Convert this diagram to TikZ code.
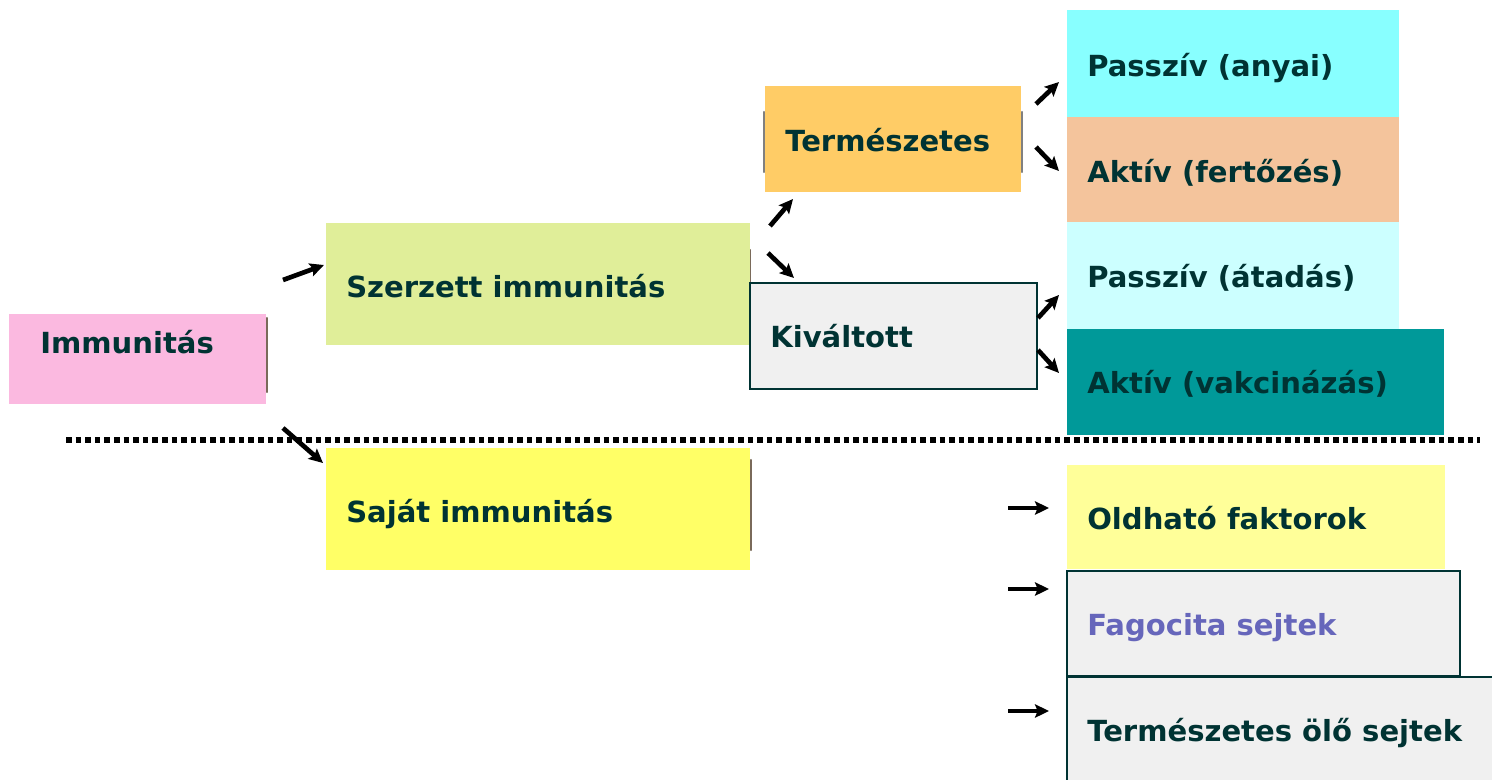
\documentclass[tikz,border=0pt]{standalone}
\usepackage{fontspec}
\setmainfont{DejaVu Sans}
\usetikzlibrary{arrows.meta,fit}

\definecolor{immpink}{HTML}{FBB9E0}
\definecolor{szgreen}{HTML}{E0EE99}
\definecolor{termorange}{HTML}{FFCC66}
\definecolor{pacyan}{HTML}{88FFFF}
\definecolor{akpeach}{HTML}{F4C49C}
\definecolor{palight}{HTML}{CCFFFF}
\definecolor{akteal}{HTML}{009999}
\definecolor{sajyellow}{HTML}{FFFF66}
\definecolor{oldyellow}{HTML}{FFFF99}
\definecolor{boxgray}{HTML}{F0F0F0}
\definecolor{darkteal}{HTML}{003333}
\definecolor{fagpurple}{HTML}{6666BB}
\definecolor{edgegray}{HTML}{7A6A5A}

\begin{document}
\begin{tikzpicture}[x=0.75pt,y=-0.75pt,>={Stealth[length=10.5pt,width=10pt,inset=2pt]},
  box/.style={inner sep=0pt,draw=none},
  framed/.style={inner sep=0pt,draw=darkteal,line width=1.5pt},
  lbl/.style={anchor=base west,inner sep=0pt,font=\bfseries\fontsize{21.8}{25}\selectfont,text=darkteal},
  arr/.style={->,line width=3.5pt},
  edge/.style={edgegray,line width=1.6pt,line cap=round}]
\useasboundingbox (0,0) rectangle (1492,779);

% left side
\draw[edge] (267,318) -- (267,392);
\node[box,fill=immpink,fit={(9,314) (266,404)}] (imm) {};
\node[lbl] (imm-t) at (40,353) {Immunitás};
\draw[edge] (750,250) -- (750,343);
\node[box,fill=szgreen,fit={(326,223) (750,345)}] (szer) {};
\node[lbl] (szer-t) at (346,297) {Szerzett immunitás};
\draw[edge] (751,460) -- (751,550);
\node[box,fill=sajyellow,fit={(326,448) (750,570)}] (sajat) {};
\node[lbl] (sajat-t) at (346,522) {Saját immunitás};

% middle
\draw[edge,gray] (764,112) -- (764,172) (1022,112) -- (1022,172);
\node[box,fill=termorange,fit={(765,86) (1021,192)}] (term) {};
\node[lbl] (term-t) at (785,151) {Természetes};
\node[framed,fill=boxgray,fit={(750,283) (1037,389)}] (kiv) {};
\node[lbl] (kiv-t) at (770,347) {Kiváltott};

% right column
\node[box,fill=pacyan,fit={(1067,10) (1399,117)}] (pany) {};
\node[lbl] (pany-t) at (1087,76) {Passzív (anyai)};
\node[box,fill=akpeach,fit={(1067,117) (1399,222)}] (afert) {};
\node[lbl] (afert-t) at (1087,182) {Aktív (fertőzés)};
\node[box,fill=palight,fit={(1067,222) (1399,329)}] (patad) {};
\node[lbl] (patad-t) at (1087,287) {Passzív (átadás)};
\node[box,fill=akteal,fit={(1067,329) (1444,435)}] (avak) {};
\node[lbl] (avak-t) at (1087,393) {Aktív (vakcinázás)};

\node[box,fill=oldyellow,fit={(1067,465) (1445,569)}] (old) {};
\node[lbl] (old-t) at (1087,529) {Oldható faktorok};
\node[framed,fill=boxgray,fit={(1067,571) (1460,676)}] (fag) {};
\node[lbl,text=fagpurple] (fag-t) at (1087,635) {Fagocita sejtek};
\node[framed,fill=boxgray,fit={(1067,677) (1500,790)}] (nk) {};
\node[lbl] (nk-t) at (1087,741) {Természetes ölő sejtek};

% dotted divider
\draw[line width=4pt,dash pattern=on 4.2pt off 3pt] (66,440) -- (1480,440);

% short arrows between the boxes
\foreach \n/\a/\b/\c/\d in {1/283/280/324/265, 2/283/428/323/463,
    3/770/226/793/199, 4/768/253/794/278,
    5/1036/104/1059/82, 6/1036/147/1059/171,
    7/1038/318/1059/295, 8/1038/350/1059/373,
    9/1008/508/1049/508, 10/1008/589/1049/589, 11/1008/711/1049/711}
{
  \coordinate (from\n) at (\a,\b);
  \coordinate (to\n) at (\c,\d);
  \draw[arr] (from\n) -- (to\n);
}
\end{tikzpicture}
\end{document}
